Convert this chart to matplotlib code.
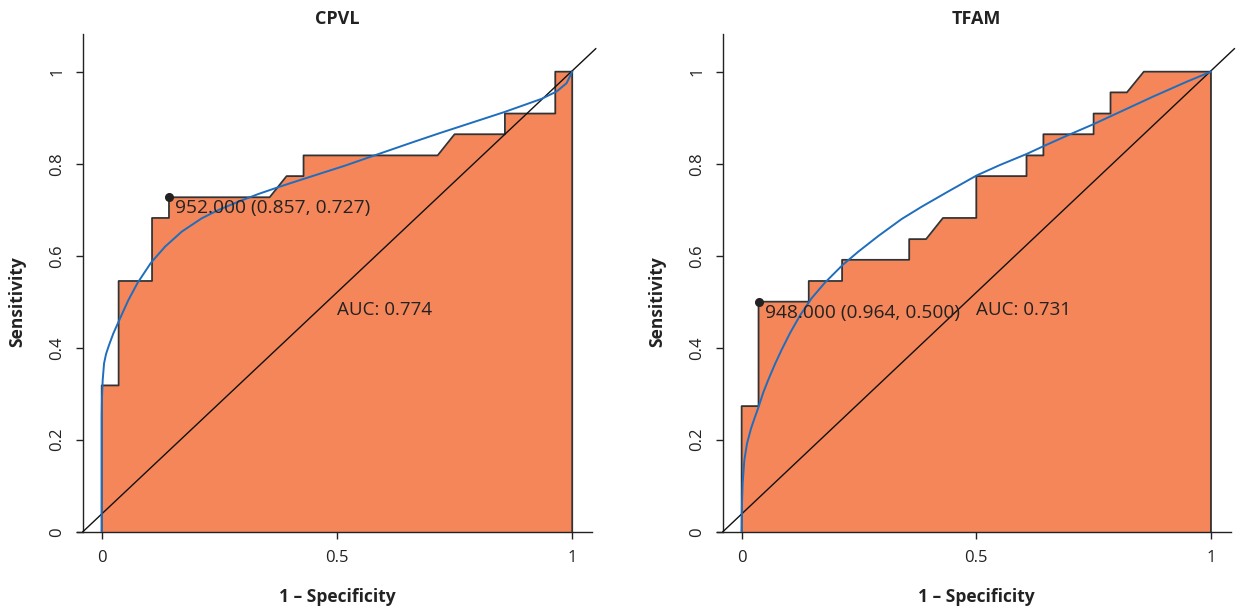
import matplotlib
matplotlib.use('Agg')
import matplotlib.pyplot as plt

plt.rcParams['font.family'] = ['Open Sans', 'DejaVu Sans']

# ---- data ----------------------------------------------------------------
titles = ['CPVL', 'TFAM']

# empirical ROC steps (1 - specificity, sensitivity)
cpvl_fpr = [0, 0, 0.036, 0.036, 0.107, 0.107, 0.143, 0.143, 0.357, 0.393,
            0.429, 0.429, 0.714, 0.750, 0.857, 0.857, 0.964, 0.964, 1.0]
cpvl_tpr = [0, 0.318, 0.318, 0.545, 0.545, 0.682, 0.682, 0.727, 0.727, 0.773,
            0.773, 0.818, 0.818, 0.864, 0.864, 0.909, 0.909, 1.0, 1.0]

tfam_fpr = [0, 0, 0.036, 0.036, 0.143, 0.143, 0.214, 0.214, 0.357, 0.357,
            0.393, 0.429, 0.500, 0.500, 0.607, 0.607, 0.643, 0.643, 0.750,
            0.750, 0.786, 0.786, 0.821, 0.857, 1.0]
tfam_tpr = [0, 0.273, 0.273, 0.500, 0.500, 0.545, 0.545, 0.591, 0.591, 0.636,
            0.636, 0.682, 0.682, 0.773, 0.773, 0.818, 0.818, 0.864, 0.864,
            0.909, 0.909, 0.955, 0.955, 1.0, 1.0]

# smoothed ROC (blue)
cpvl_smooth_x = [0, 0, 0.0007, 0.0021, 0.0050, 0.0092, 0.0156, 0.0248,
                 0.0390, 0.0567, 0.0765, 0.1048, 0.1346, 0.1700, 0.2125,
                 0.2479, 0.2904, 0.3329, 0.3824, 0.4285, 0.4816, 0.5170,
                 0.577, 0.662, 0.717, 0.855, 0.935, 0.967, 0.988, 1.0]
cpvl_smooth_y = [0, 0.250, 0.2935, 0.3297, 0.3659, 0.3862, 0.4058, 0.4312,
                 0.4638, 0.5036, 0.5413, 0.5848, 0.6196, 0.6522, 0.6812,
                 0.6993, 0.7174, 0.7341, 0.7514, 0.7667, 0.7841, 0.7957,
                 0.817, 0.847, 0.866, 0.912, 0.941, 0.957, 0.975, 1.0]

tfam_smooth_x = [0, 0.0007, 0.0021, 0.0057, 0.0114, 0.0199, 0.0284, 0.0355,
                 0.0462, 0.0568, 0.0710, 0.0852, 0.1030, 0.1243, 0.1491,
                 0.1776, 0.2152, 0.2486, 0.2912, 0.3409, 0.3835, 0.4403,
                 0.5007, 0.55, 0.607, 0.643, 0.700, 0.750, 0.786, 0.877,
                 0.948, 1.0]
tfam_smooth_y = [0, 0.0615, 0.1049, 0.1555, 0.1916, 0.2242, 0.2495, 0.2697,
                 0.3030, 0.3304, 0.3644, 0.3955, 0.4317, 0.4700, 0.5076,
                 0.5416, 0.5799, 0.6088, 0.6428, 0.6797, 0.7064, 0.7397,
                 0.7744, 0.797, 0.821, 0.838, 0.864, 0.886, 0.903, 0.946,
                 0.978, 1.0]

# best threshold points and labels
best_x = [0.143, 0.036]
best_y = [0.727, 0.500]
best_labels = ['952.000 (0.857, 0.727)', '948.000 (0.964, 0.500)']
auc_labels = ['AUC: 0.774', 'AUC: 0.731']

diag_x = [-0.04, 1.05]
diag_y = [0.0, 1.05]

x_ticks = [0, 0.5, 1]
x_ticklabels = ['0', '0.5', '1']
y_ticks = [0, 0.2, 0.4, 0.6, 0.8, 1]
y_ticklabels = ['0', '0.2', '0.4', '0.6', '0.8', '1']

steps = [(cpvl_fpr, cpvl_tpr), (tfam_fpr, tfam_tpr)]
smooths = [(cpvl_smooth_x, cpvl_smooth_y), (tfam_smooth_x, tfam_smooth_y)]

FILL = '#f4865a'
BLUE = '#1f6dbd'
EDGE = '#333333'
INK = '#222222'

fig = plt.figure(figsize=(12.37, 6.08), dpi=100)
ax_rects = [[0.0594, 0.1255, 0.4260, 0.8209],
            [0.5768, 0.1255, 0.4249, 0.8209]]

for i, rect in enumerate(ax_rects):
    ax = fig.add_axes(rect)
    fx, fy = steps[i]
    sx, sy = smooths[i]

    ax.fill_between(fx, fy, 0, color=FILL, lw=0, zorder=1)
    ax.plot(fx + [fx[-1]], fy + [0], color=EDGE, lw=1.3, zorder=2)
    ax.plot(diag_x, diag_y, color='#111111', lw=1.0, zorder=3)
    ax.plot(sx, sy, color=BLUE, lw=1.4, zorder=4)
    ax.plot(best_x[i], best_y[i], 'o', color=INK, ms=5.5, zorder=5)

    ax.text(best_x[i] + 0.013, best_y[i] - 0.024, best_labels[i],
            ha='left', va='center', fontsize=13.8, color=INK, zorder=6)
    ax.text(0.5, 0.483, auc_labels[i], ha='left', va='center',
            fontsize=13.5, color=INK, zorder=6)

    ax.set_xlim(-0.06, 1.06)
    ax.set_ylim(0, 1.085)
    for s in ('top', 'right'):
        ax.spines[s].set_visible(False)
    ax.spines['left'].set_position(('data', -0.039))
    ax.spines['left'].set_bounds(0, 1.083)
    ax.spines['bottom'].set_bounds(-0.053, 1.043)
    for s in ('left', 'bottom'):
        ax.spines[s].set_linewidth(1.0)
        ax.spines[s].set_color(INK)

    ax.set_xticks(x_ticks)
    ax.set_xticklabels(x_ticklabels)
    ax.set_yticks(y_ticks)
    ax.set_yticklabels(y_ticklabels, rotation=90, va='center')
    ax.tick_params(direction='out', length=5, width=1.0, color=INK,
                   labelsize=12, labelcolor=INK, pad=8)

    ax.set_title(titles[i], fontsize=13, fontweight='bold', pad=6,
                 color=INK)
    ax.set_xlabel('1 – Specificity', fontsize=12.5, fontweight='bold',
                  labelpad=16, color=INK)
    ax.set_ylabel('Sensitivity', fontsize=12.5, fontweight='bold',
                  color=INK)
    ax.yaxis.set_label_coords(-0.090, 0.461)

fig.savefig('out.png', dpi=100)
